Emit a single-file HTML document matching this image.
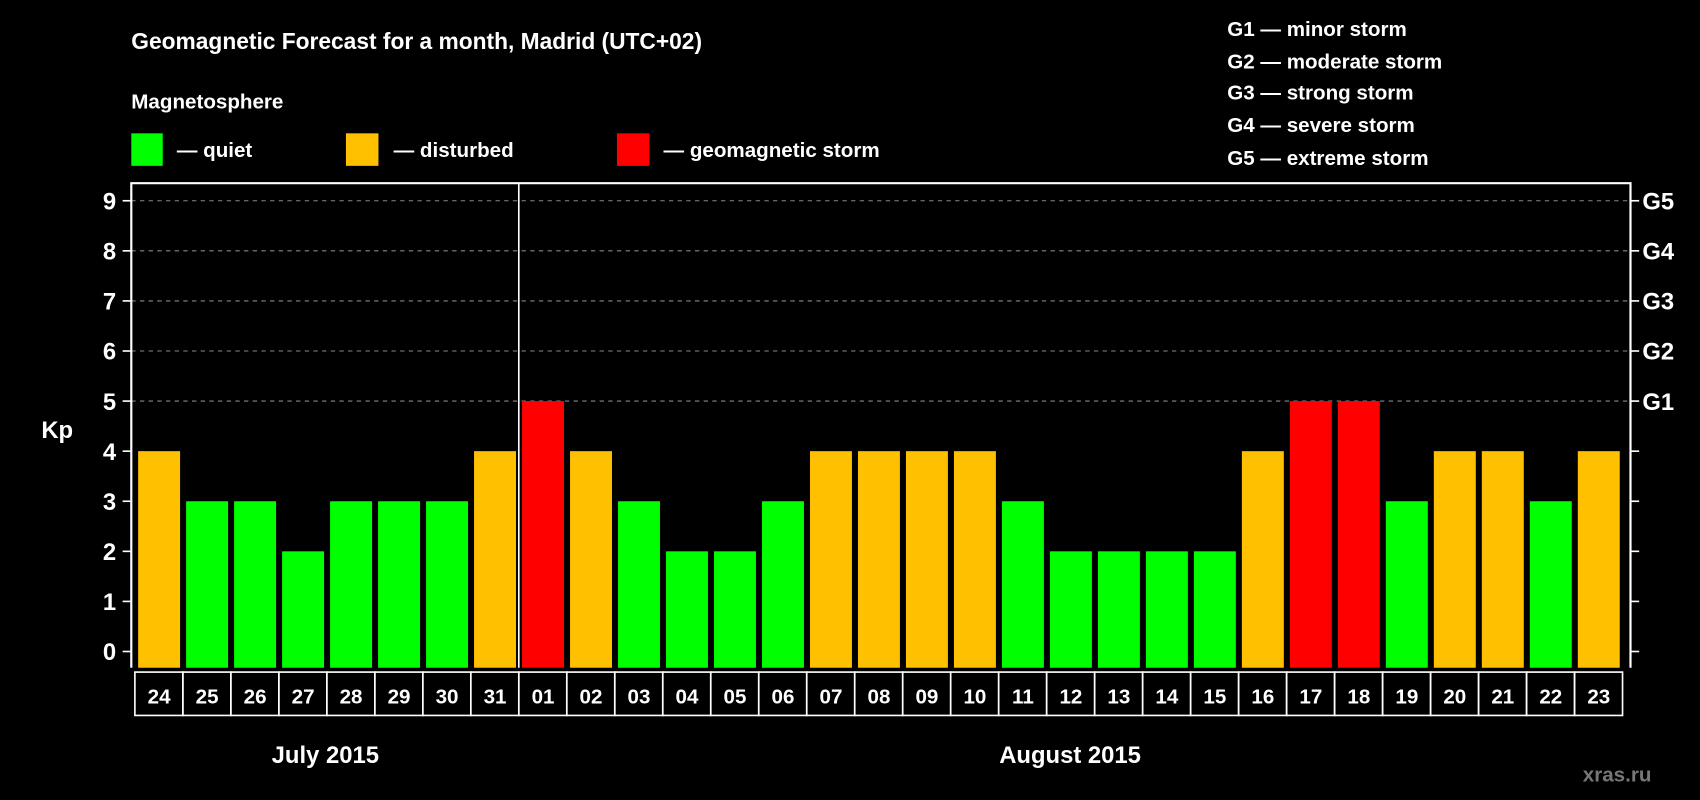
<!DOCTYPE html>
<html><head><meta charset="utf-8"><style>html,body{margin:0;padding:0;background:#000;}svg{display:block;}text{font-family:"Liberation Sans",Arial,sans-serif;font-weight:bold;fill:#fff;}</style></head>
<body>
<svg id="chart" width="1700" height="800" viewBox="0 0 1568 738">
<rect width="1568" height="738" fill="#000"/>
<text x="121" y="45" font-size="21">Geomagnetic Forecast for a month, Madrid (UTC+02)</text>
<text x="121" y="100" font-size="19">Magnetosphere</text>
<g><rect x="121" y="123" width="29" height="30" fill="#00ff00"/><text x="163" y="145" font-size="19">— quiet</text></g>
<g><rect x="319" y="123" width="30" height="30" fill="#ffc000"/><text x="363" y="145" font-size="19">— disturbed</text></g>
<g><rect x="569" y="123" width="30" height="30" fill="#ff0000"/><text x="612" y="145" font-size="19">— geomagnetic storm</text></g>
<g font-size="19">
<text x="1132" y="33" font-size="19">G1 — minor storm</text>
<text x="1132" y="63" font-size="19">G2 — moderate storm</text>
<text x="1132" y="92" font-size="19">G3 — strong storm</text>
<text x="1132" y="122" font-size="19">G4 — severe storm</text>
<text x="1132" y="152" font-size="19">G5 — extreme storm</text>
</g>
<text x="38" y="404" font-size="22">Kp</text>
<text x="300" y="704" font-size="22" text-anchor="middle">July 2015</text>
<text x="987" y="704" font-size="22" text-anchor="middle">August 2015</text>
<text x="1460" y="721" font-size="19" style="fill:#777">xras.ru</text>
<g id="plot"></g>
</svg>
<script>
const days = ["24","25","26","27","28","29","30","31","01","02","03","04","05","06","07","08","09","10","11","12","13","14","15","16","17","18","19","20","21","22","23"];
const kpValues = [4,3,3,2,3,3,3,4,5,4,3,2,2,3,4,4,4,4,3,2,2,2,2,4,5,5,3,4,4,3,4];
const yTicks = [0,1,2,3,4,5,6,7,8,9];
const gLabels = ["G1","G2","G3","G4","G5"];
const gLevels = [5,6,7,8,9];
const NS="http://www.w3.org/2000/svg";
const g=document.getElementById('plot');
const L=121,R=1504,T=169,B=616,pitch=44.27,x0=127.3,bw=38.7;
const y=v=>601-v*46.2;
const x=i=>x0+i*pitch;
function mk(tag,a){const e=document.createElementNS(NS,tag);for(const k in a)e.setAttribute(k,a[k]);g.appendChild(e);return e;}
yTicks.forEach(v=>{
 if(v>=5){const l=mk('line',{x1:L,x2:R,y1:y(v),y2:y(v),stroke:'#888','stroke-dasharray':'4,4','stroke-width':1});
 
 }
 const t=mk('line',{x1:L-8,x2:L,y1:y(v),y2:y(v),stroke:'#fff','stroke-width':1.5});
 
 
 const t2=mk('line',{x1:R,x2:R+8,y1:y(v),y2:y(v),stroke:'#fff','stroke-width':1.5});
 
 
 const tx=mk('text',{x:L-14,y:y(v)+8,'font-size':22,'text-anchor':'end'});tx.textContent=v;
 
 
});
gLabels.forEach((s,i)=>{const t=mk('text',{x:R+11,y:y(gLevels[i])+8,'font-size':22});t.textContent=s;
 
 });
kpValues.forEach((v,i)=>{
 const c=v>=5?'#ff0000':(v>=4?'#ffc000':'#00ff00');
 const r=mk('rect',{x:x(i),y:y(v),width:bw,height:B-y(v),fill:c});
 
 
 const b=mk('rect',{x:x(i)-3,y:620,width:pitch,height:40,fill:'none',stroke:'#fff','stroke-width':1.5});
 
 
 const t=mk('text',{x:x(i)+bw/2,y:649,'font-size':19,'text-anchor':'middle'});t.textContent=days[i];
 
 
});
const fr=mk('path',{d:`M${L},${B} V${T} H${R} V${B}`,fill:'none',stroke:'#fff','stroke-width':2});


const idx=days.indexOf('01');
const ml=mk('line',{x1:x(idx)-3,x2:x(idx)-3,y1:T,y2:B,stroke:'#fff','stroke-width':1.5});


</script>
</body></html>
